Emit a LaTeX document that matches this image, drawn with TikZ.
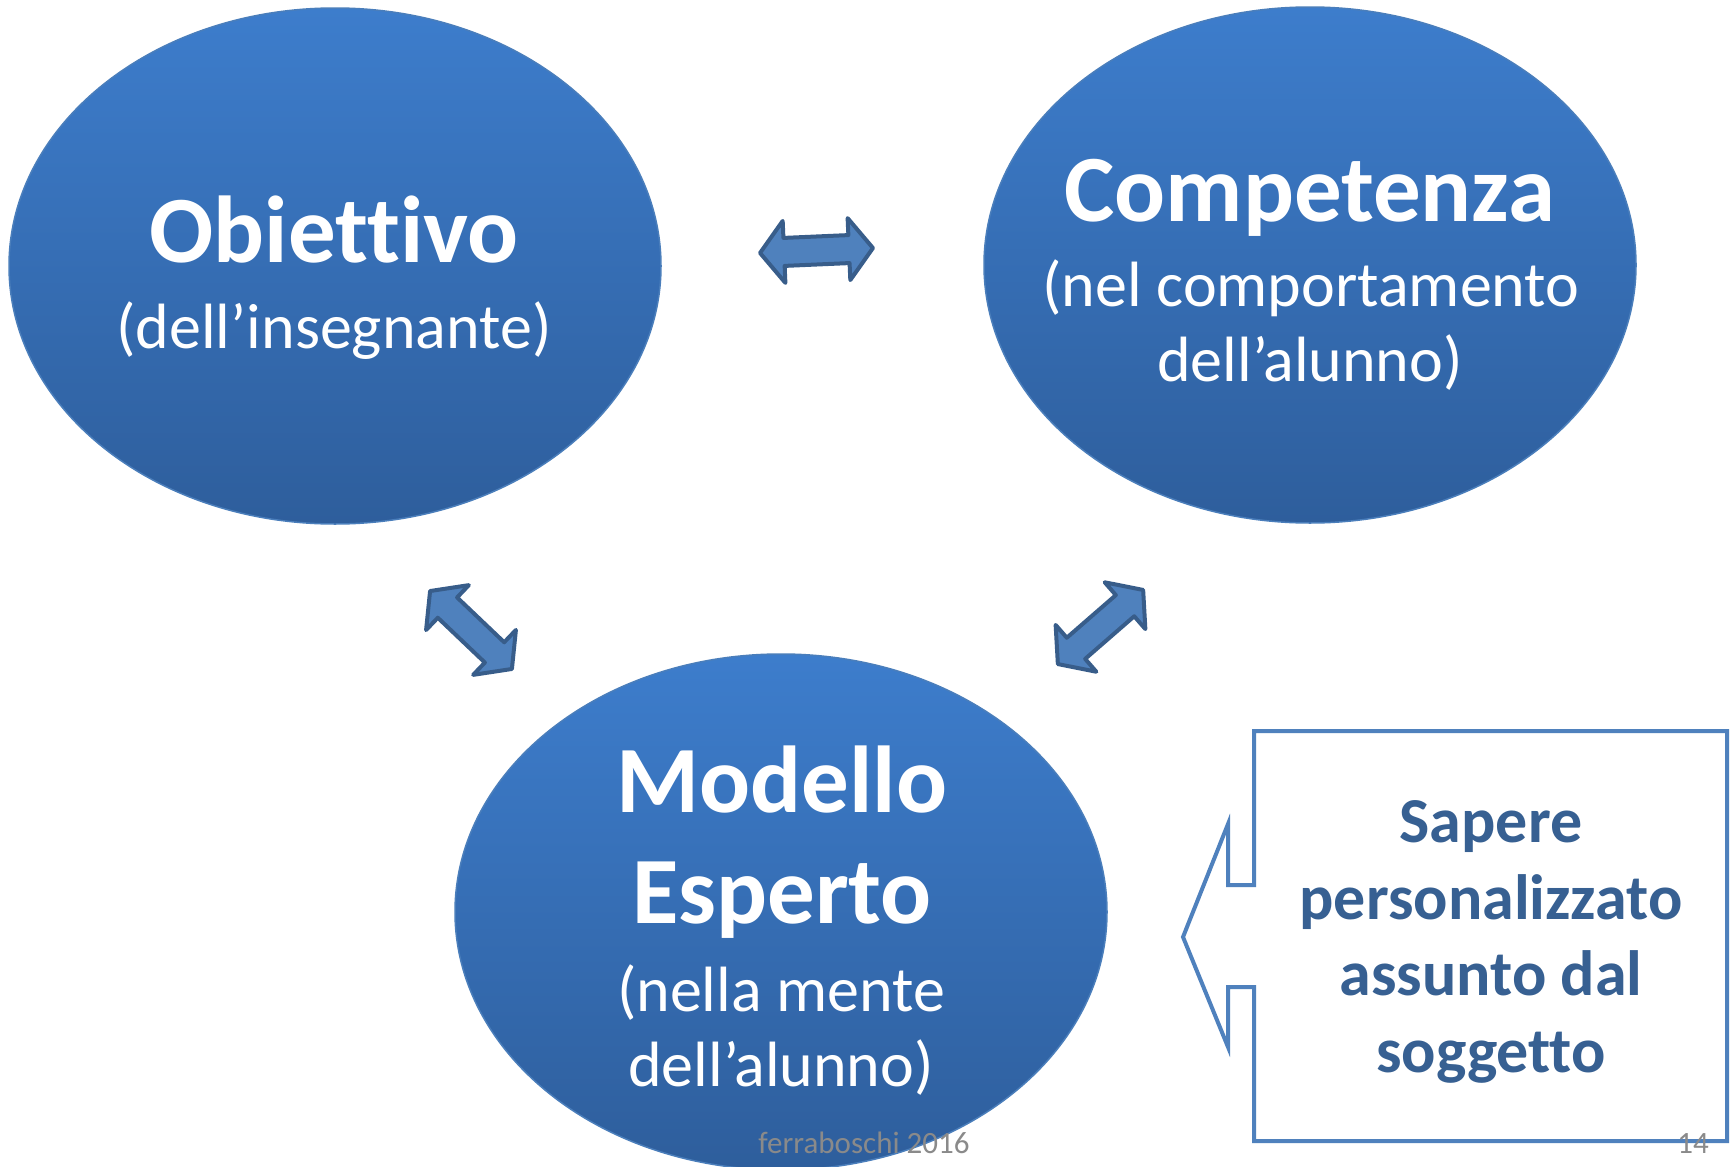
\documentclass[tikz,border=0pt]{standalone}
\usepackage{fontspec}
\setmainfont{Carlito}[Ligatures={NoCommon}]
\usetikzlibrary{shapes.geometric}
\definecolor{elltop}{HTML}{3D7DCC}
\definecolor{ellbot}{HTML}{2E5E9C}
\definecolor{ellline}{HTML}{4A7EBB}
\definecolor{arrfill}{HTML}{4F81BD}
\definecolor{arrline}{HTML}{385D8A}
\definecolor{calline}{HTML}{4F81BD}
\definecolor{caltext}{HTML}{376092}
\definecolor{foot}{HTML}{8A8A8A}
\tikzset{
  bigell/.style={ellipse, minimum width=652pt, minimum height=516pt, inner sep=0pt,
    top color=elltop, bottom color=ellbot, draw=ellline, line width=1.5pt},
  titletxt/.style={anchor=base, text=white, font=\fontsize{95}{100}\selectfont\bfseries},
  subtxt/.style={anchor=base, text=white, font=\fontsize{64}{70}\selectfont},
  caltxt/.style={anchor=base, text=caltext, font=\fontsize{64}{70}\selectfont\bfseries},
  foottxt/.style={anchor=base, text=foot, font=\fontsize{31}{34}\selectfont},
  arrsty/.style={fill=arrfill, draw=arrline, line width=4pt, line join=round},
  calsty/.style={draw=calline, fill=white, line width=4pt, line join=miter}
}
\newcommand\dblarrow[3]{%
  \begin{scope}[shift={(#1,#2)},rotate=#3]
    \draw[arrsty] (-56.5,0) -- (-32.5,-31) -- (-32.5,-14) -- (32.5,-14) -- (32.5,-31)
      -- (56.5,0) -- (32.5,31) -- (32.5,14) -- (-32.5,14) -- (-32.5,31) -- cycle;
  \end{scope}}
\begin{document}
\begin{tikzpicture}[x=1pt,y=-1pt]
\useasboundingbox[fill=white] (0,0) rectangle (1733,1167);
% ellipses
\node[bigell] (obi) at (335,266) {};
\node[bigell] (comp) at (1310,265) {};
\node[bigell] (mod) at (781,912) {};
% texts
\node[titletxt] (t1) at (334,262) {Obiettivo};
\node[subtxt] (s1) at (334,348) {(dell’insegnante)};
\node[titletxt] (t2) at (1310,221) {Competenza};
\node[subtxt] (s2a) at (1311,306) {(nel comportamento};
\node[subtxt] (s2b) at (1310,381) {dell’alunno)};
\node[titletxt] (t3a) at (782,812) {Modello};
\node[titletxt] (t3b) at (782,923) {Esperto};
\node[subtxt] (s3a) at (781,1011) {(nella mente};
\node[subtxt] (s3b) at (781,1086) {dell’alunno)};
% double arrows
\dblarrow{816.5}{250.5}{2.5}
\dblarrow{471}{630}{-43.6}
\dblarrow{1100.5}{627}{41}
% callout
\draw[calsty] (1254,731) -- (1727,731) -- (1727,1141) -- (1254,1141) -- (1254,987)
  -- (1228,987) -- (1228,1047) -- (1183,937) -- (1228,824) -- (1228,885) -- (1254,885) -- cycle;
\node[caltxt] (c1) at (1491,842) {Sapere};
\node[caltxt] (c2) at (1491,919) {personalizzato};
\node[caltxt] (c3) at (1491,995) {assunto dal};
\node[caltxt] (c4) at (1491,1072) {soggetto};
% footer
\node[foottxt] (f1) at (864,1153) {ferraboschi 2016};
\node[foottxt] (f2) at (1693,1153) {14};
\end{tikzpicture}
\end{document}
